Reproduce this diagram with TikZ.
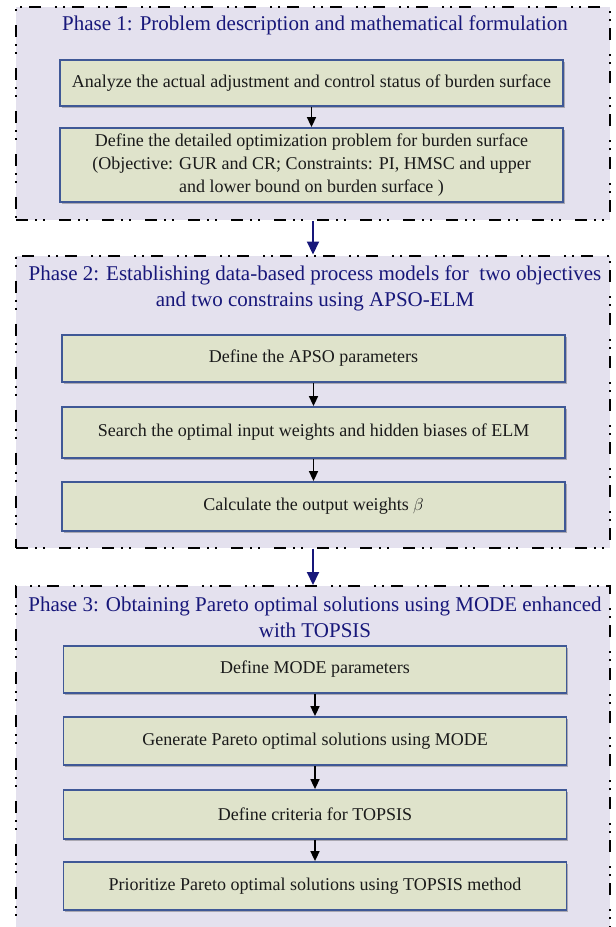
\documentclass[tikz,border=0pt]{standalone}
\usepackage{fontspec}
\setmainfont{Liberation Serif}
\usetikzlibrary{shadows,arrows.meta}
\definecolor{phasefill}{HTML}{E4E1EE}
\definecolor{boxfill}{HTML}{DFE3CB}
\definecolor{boxline}{HTML}{3F5896}
\definecolor{navy}{HTML}{17177A}
\definecolor{txt}{HTML}{1A1A1A}
\tikzset{
  phase/.style={draw=black, fill=phasefill, line width=2pt,
    dash pattern=on 12pt off 7pt on 2pt off 6pt on 2pt off 14pt,
    minimum width=594pt, inner sep=0pt},
  title/.style={text=navy, font=\fontsize{21}{26}\selectfont, align=center, inner sep=0pt},
  stepbox/.style={draw=boxline, fill=boxfill, line width=1.8pt, inner sep=2pt,
    minimum width=503pt, align=center, text=txt,
    font=\fontsize{18}{23}\selectfont,
    drop shadow={shadow xshift=1.5pt, shadow yshift=-1.5pt, opacity=0.25, fill=black}},
  flow/.style={draw=black, line width=1.6pt, -{Triangle[width=9pt,length=10pt]}},
  link/.style={draw=navy, line width=2pt, -{Triangle[width=12pt,length=13pt]}}
}
\begin{document}
\begin{tikzpicture}[x=1pt,y=-1pt]
\useasboundingbox (0,0) rectangle (616,927);
\begin{scope}
\clip (0,0) rectangle (616,927);
% phase containers
\node[phase, minimum height=213pt] (p1) at (313,113.5) {};
\node[phase, minimum height=292pt] (p2) at (313,401.5) {};
\node[phase, minimum height=360pt] (p3) at (313,766) {};
\end{scope}
% titles
\node[title] (t1) at (315,25) {Phase 1: Problem description and mathematical formulation};
\node[title] (t2) at (315,288) {Phase 2: Establishing data-based process models for\ \ two objectives\\and two constrains using APSO-ELM};
\node[title] (t3) at (315,617.5) {Phase 3: Obtaining Pareto optimal solutions using MODE enhanced\\with TOPSIS};
% phase 1 boxes
\node[stepbox, minimum height=46pt] (a1) at (311.5,83) {Analyze the actual adjustment and control status of burden surface};
\node[stepbox, minimum height=74pt] (a2) at (311.5,165) {Define the detailed optimization problem for burden surface\\(Objective: GUR and CR; Constraints: PI, HMSC and upper\\and lower bound on burden surface )};
% phase 2 boxes
\node[stepbox, minimum height=47pt] (b1) at (313.5,358.5) {Define the APSO parameters};
\node[stepbox, minimum height=51pt] (b2) at (313.5,432.5) {Search the optimal input weights and hidden biases of ELM};
\node[stepbox, minimum height=49pt] (b3) at (313.5,506.5) {Calculate the output weights $\beta$};
% phase 3 boxes
\node[stepbox, minimum height=47pt] (c1) at (315,669.5) {Define MODE parameters};
\node[stepbox, minimum height=48pt] (c2) at (315,741) {Generate Pareto optimal solutions using MODE};
\node[stepbox, minimum height=49pt] (c3) at (315,814.5) {Define criteria for TOPSIS};
\node[stepbox, minimum height=48pt] (c4) at (315,886) {Prioritize Pareto optimal solutions using TOPSIS method};
% arrows
\draw[flow] (a1) -- (a2);
\draw[flow] (b1) -- (b2);
\draw[flow] (b2) -- (b3);
\draw[flow] (c1) -- (c2);
\draw[flow] (c2) -- (c3);
\draw[flow] (c3) -- (c4);
\draw[link] (p1.south) -- (p2.north);
\draw[link] (p2.south) -- (p2.south |- p3.north);
\end{tikzpicture}
\end{document}
